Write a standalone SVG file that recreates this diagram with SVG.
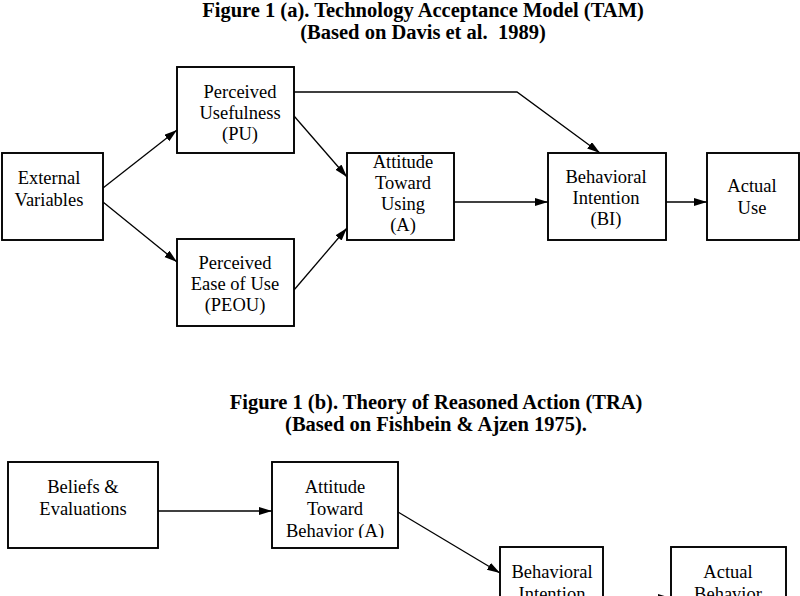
<svg xmlns="http://www.w3.org/2000/svg" width="800" height="596" viewBox="0 0 800 596">
<style>
.box{fill:#fff;stroke:#000;stroke-width:1.9}
.t{font-family:"Liberation Serif","Times New Roman",serif;font-size:18.5px;fill:#000;text-anchor:middle}
.h{font-family:"Liberation Serif","Times New Roman",serif;font-size:20.5px;font-weight:bold;fill:#000;text-anchor:middle}
.c{fill:none;stroke:#000;stroke-width:1.3}
</style>
<defs>
<marker id="ah" markerUnits="userSpaceOnUse" markerWidth="14" markerHeight="10" refX="13" refY="4" orient="auto">
<path d="M0,0 L13,4 L0,8 z" fill="#000"/>
</marker>
<clipPath id="clipA"><rect x="272" y="462" width="126" height="76"/></clipPath>
</defs>
<rect width="800" height="596" fill="#fff"/>
<g id="titles">
<text class="h" x="423" y="17">Figure 1 (a). Technology Acceptance Model (TAM)</text>
<text class="h" x="423" y="39">(Based on Davis et al. &#160;1989)</text>
<text class="h" x="436" y="409">Figure 1 (b). Theory of Reasoned Action (TRA)</text>
<text class="h" x="436" y="431">(Based on Fishbein &amp; Ajzen 1975).</text>
</g>
<g id="connectors">
<line class="c" x1="103" y1="188" x2="177" y2="130" marker-end="url(#ah)"/>
<line class="c" x1="103" y1="202" x2="177" y2="262" marker-end="url(#ah)"/>
<line class="c" x1="294" y1="116" x2="347" y2="177" marker-end="url(#ah)"/>
<line class="c" x1="294" y1="290" x2="347" y2="228" marker-end="url(#ah)"/>
<polyline class="c" points="294,92 517,92 600,153" marker-end="url(#ah)"/>
<line class="c" x1="454" y1="202" x2="548" y2="202" marker-end="url(#ah)"/>
<line class="c" x1="666" y1="202" x2="707" y2="202" marker-end="url(#ah)"/>
<line class="c" x1="158" y1="511" x2="272" y2="511" marker-end="url(#ah)"/>
<line class="c" x1="398" y1="512" x2="500" y2="573" marker-end="url(#ah)"/>
<line class="c" x1="603" y1="598" x2="671" y2="598" marker-end="url(#ah)"/>
</g>
<g id="ext">
<rect class="box" x="2" y="153" width="101" height="87"/>
<text class="t" x="49" y="184">External</text>
<text class="t" x="49" y="206">Variables</text>
</g>
<g id="pu">
<rect class="box" x="177" y="67" width="117" height="86"/>
<text class="t" x="240" y="98">Perceived</text>
<text class="t" x="240" y="119">Usefulness</text>
<text class="t" x="240" y="140">(PU)</text>
</g>
<g id="peou">
<rect class="box" x="177" y="239" width="117" height="87"/>
<text class="t" x="235" y="269">Perceived</text>
<text class="t" x="235" y="290">Ease of Use</text>
<text class="t" x="235" y="311">(PEOU)</text>
</g>
<g id="att">
<rect class="box" x="347" y="153" width="107" height="87"/>
<text class="t" x="403" y="168">Attitude</text>
<text class="t" x="403" y="189">Toward</text>
<text class="t" x="403" y="210">Using</text>
<text class="t" x="403" y="231">(A)</text>
</g>
<g id="bi">
<rect class="box" x="548" y="153" width="118" height="87"/>
<text class="t" x="606" y="183">Behavioral</text>
<text class="t" x="606" y="204">Intention</text>
<text class="t" x="606" y="225">(BI)</text>
</g>
<g id="use">
<rect class="box" x="707" y="153" width="92" height="87"/>
<text class="t" x="752" y="192">Actual</text>
<text class="t" x="752" y="214">Use</text>
</g>
<g id="beliefs">
<rect class="box" x="8" y="462" width="150" height="86"/>
<text class="t" x="83" y="493">Beliefs &amp;</text>
<text class="t" x="83" y="515">Evaluations</text>
</g>
<g id="attb">
<rect class="box" x="272" y="462" width="126" height="86"/>
<text class="t" x="335" y="493">Attitude</text>
<text class="t" x="335" y="515">Toward</text>
<text class="t" x="335" y="537" clip-path="url(#clipA)">Behavior (A)</text>
</g>
<g id="bib">
<rect class="box" x="500" y="547" width="103" height="60"/>
<text class="t" x="552" y="578">Behavioral</text>
<text class="t" x="552" y="600">Intention</text>
</g>
<g id="actb">
<rect class="box" x="671" y="547" width="115" height="60"/>
<text class="t" x="728" y="578">Actual</text>
<text class="t" x="728" y="600">Behavior</text>
</g>
</svg>
